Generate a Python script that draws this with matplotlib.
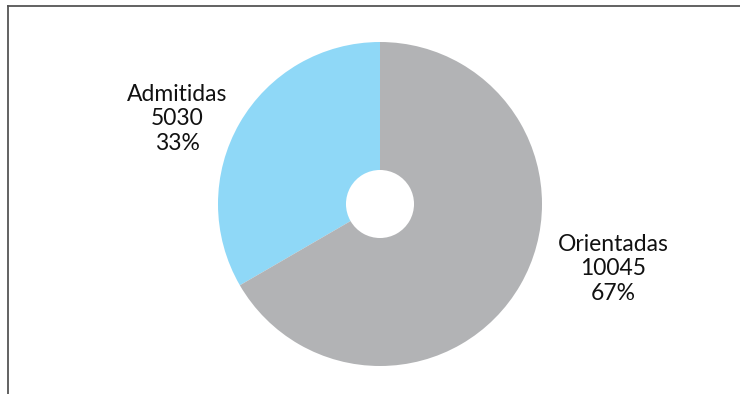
import matplotlib
matplotlib.use('Agg')
import matplotlib.pyplot as plt
from matplotlib.lines import Line2D

# data
labels = ['Admitidas', 'Orientadas']
values = [5030, 10045]
colors = ['#8fd8f7', '#b2b3b5']

plt.rcParams['font.family'] = ['Lato', 'DejaVu Sans']

W, H = 740, 394
fig = plt.figure(figsize=(W / 100, H / 100), dpi=100)

# frame lines (left and top)
fig.add_artist(Line2D([7.5 / W, 7.5 / W], [0, 1 - 5.5 / H], color='#555555', lw=1.3))
fig.add_artist(Line2D([7.5 / W, 1], [1 - 5.5 / H, 1 - 5.5 / H], color='#555555', lw=1.3))

# pie centre (380, 204), radius 162 px
cx, cy, r = 380, 204, 162
ax = fig.add_axes([(cx - r) / W, (H - cy - r) / H, 2 * r / W, 2 * r / H])
ax.pie(values, colors=colors, startangle=90, counterclock=True,
       radius=1, wedgeprops=dict(width=1 - 0.21, linewidth=0))
ax.set_xlim(-1, 1)
ax.set_ylim(-1, 1)
ax.set_aspect('equal')
ax.axis('off')

total = sum(values)
pos = [(-1.253, 0.525), (1.438, -0.40)]
for lab, v, (x, y) in zip(labels, values, pos):
    pct = round(100 * v / total)
    ax.text(x, y, f'{lab}\n{v}\n{pct}%', ha='center', va='center',
            fontsize=16.5, linespacing=1.2, color='#111111', clip_on=False)

fig.savefig('out.png', dpi=100)
